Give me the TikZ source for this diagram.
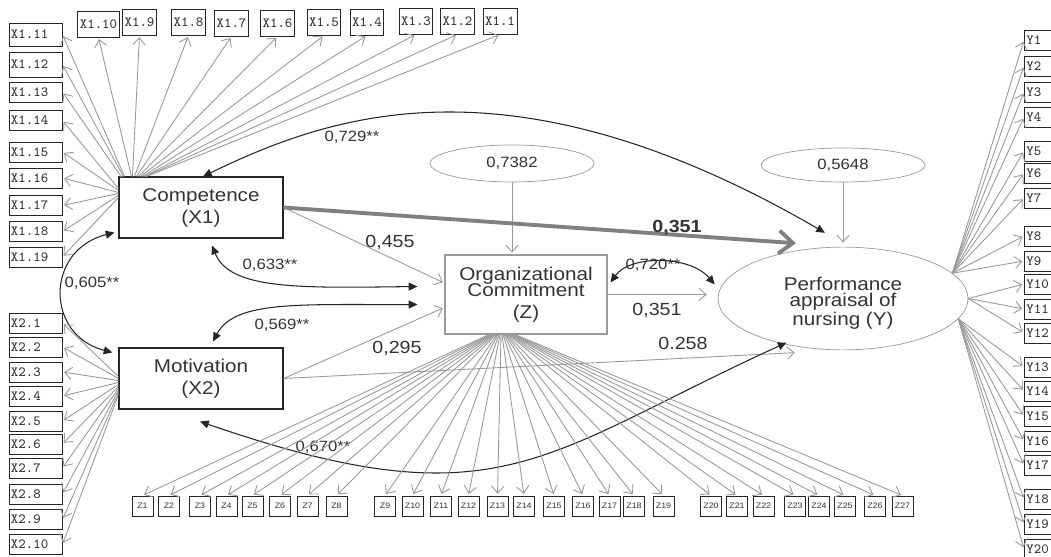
\documentclass[tikz,border=0pt]{standalone}
\usepackage{fontspec}
\setmainfont{Liberation Sans}[FakeStretch=1.12]
\usetikzlibrary{
    arrows.meta,
    positioning,
    shapes.geometric,
    calc
}

\begin{document}
\begin{tikzpicture}[
    x=0.2mm, y=-0.2mm,
    latent/.style={rectangle, draw=black!85, line width=0.6pt, minimum width=32.8mm, minimum height=12.2mm, align=center, text=black!80, font=\fontsize{10.5}{12.5}\selectfont},
    resid/.style={ellipse, draw=black!40, minimum width=32.8mm, minimum height=7.4mm, text=black!80, font=\fontsize{8.5}{10}\selectfont},
    ind/.style={rectangle, draw=black!85, line width=0.5pt, inner xsep=0.4mm, inner ysep=0pt, minimum height=4mm, font=\ttfamily\fontsize{8}{9}\selectfont, text=black!80},
    indl/.style={ind, text width=9.8mm, align=left},
    zind/.style={ind, minimum width=4.2mm, font=\fontsize{4.5}{5}\selectfont},
    load/.style={draw=black!40, line width=0.5pt, shorten >=1pt, -{Straight Barb[length=4pt,width=7pt]}},
    cor/.style={draw=black!85, line width=0.6pt, {Triangle[length=5pt,width=4.5pt]}-{Triangle[length=5pt,width=4.5pt]}},
    coef/.style={text=black!80, font=\fontsize{10}{12}\selectfont},
    corlab/.style={text=black!80, font=\fontsize{8.5}{10}\selectfont}
]
\useasboundingbox (0,0) rectangle (1051,557);
\clip (0,0) rectangle (1051,557);

% Latent variables
\node[latent] (comp) at (201,207.5) {Competence\\(X1)};
\node[latent] (mot) at (201,378.5) {Motivation\\(X2)};
\node[latent, draw=black!40, minimum width=32.4mm, minimum height=15.8mm] (org) at (526,294.5) {Organizational\\[-3.5pt]Commitment\\(Z)};
\node[ellipse, draw=black!40, minimum width=50mm, minimum height=18.6mm, align=center, text=black!80, font=\fontsize{10.5}{12}\selectfont] (perf) at (843,298.5) {\rule{0pt}{13pt}Performance\\[-3pt]appraisal of\\[-1.5pt]nursing (Y)};

% Residuals
\node[resid] (rz) at (512,163.5) {0,7382};
\node[resid, minimum height=6.8mm] (ry) at (843,165) {0,5648};
\draw[load] (rz.south) -- (rz.south |- org.north);
\draw[load, shorten >=2.3pt] (ry.south) -- (ry.south |- perf.north);

% Paths
\draw[draw=black!50, line width=2.2pt, -{Straight Barb[length=8pt,width=13pt]}] (comp.east) -- ([shift={(-2,-7)}]perf.133);
\node[coef, font=\bfseries\fontsize{10}{12}\selectfont] (b351) at (677,228) {0,351};
\draw[load] (comp.east) -- (org.172);
\node[coef] (b455) at (390,242) {0,455};
\draw[load] (mot.east) -- (org.189);
\node[coef] (b295) at (397,348) {0,295};
\draw[load] (mot.east) -- ([shift={(0,6)}]perf.226);
\node[coef] (b258) at (683,343) {0.258};
\draw[load, shorten >=2.2mm] (org.east) -- (org.east -| perf.west);
\node[coef] (b351z) at (657,310) {0,351};

% Correlations
\draw[cor] ([shift={(2,0)}]comp.north) .. controls (330,115) and (510,50) .. ([shift={(-18,-14)}]perf.north);
\node[corlab] (r729) at (352,137) {0,729**};
\draw[cor] ([shift={(-4,-6)}]comp.south west) .. controls (45,250) and (45,335) .. ([shift={(-6,5)}]mot.north west);
\node[corlab] (r605) at (92,283) {0,605**};
\draw[cor] ([shift={(11,7)}]comp.south) .. controls (230,290) and (300,288) .. ([shift={(-27,-8)}]org.west);
\node[corlab] (r633) at (270,265) {0,633**};
\draw[cor] ([shift={(12,-6)}]mot.north) .. controls (235,300) and (300,305) .. ([shift={(-27,10)}]org.west);
\node[corlab] (r569) at (282,325) {0,569**};
\draw[cor] ([shift={(3,-12)}]org.east) .. controls (630,255) and (690,255) .. ([shift={(-3,-14)}]perf.west);
\node[corlab] (r720) at (653,265) {0,720**};
\draw[cor] ([shift={(-1,12)}]mot.south) .. controls (500,525) and (540,455) .. ([shift={(-10,-4)}]perf.226);
\node[corlab] (r670) at (323,447) {0,670**};

% Indicators of X1
\foreach \n/\x/\y/\s in {10/98.5/24/13, 9/139.5/22/14, 8/188.5/22/16, 7/231.5/23/18, 6/277.5/23/20,
    5/324/22/22, 4/367/22/24, 3/416/21/26, 2/457.5/21/27, 1/500/21/28}{
  \node[ind, minimum height=5.2mm] (x1-\n) at (\x,\y) {X1.\n};
  \draw[load] ([xshift=\s*0.2mm]comp.north west) -- (x1-\n.south);
}
\foreach \n/\y/\h/\ox/\oy in {11/34.5/23/6/0, 12/64.5/25/5/0, 13/92/20/4/2, 14/120.5/20/0/12,
    15/152/20/0/14, 16/178/20/0/16, 17/205.5/20/0/17, 18/231.5/20/0/19, 19/257/20/0/21}{
  \node[indl, minimum height=\h*0.2mm] (x1-\n) at (35.5,\y) {X1.\n};
  \draw[load] ([shift={(\ox,\oy)}]comp.north west) -- (x1-\n.east);
}

% Indicators of X2
\foreach \n/\y in {1/323, 2/347, 3/372, 4/396, 5/421, 6/444, 7/468, 8/494, 9/519.5, 10/544.5}{
  \node[indl] (x2-\n) at (35.5,\y) {X2.\n};
  \draw[load] ([shift={(0,2*\n-4)}]mot.west) -- (x2-\n.east);
}

% Indicators of Z
\foreach \i/\x in {1/142.5, 2/169, 3/200, 4/226.5, 5/252.5, 6/280, 7/307.5, 8/336.5, 9/385,
    10/412.5, 11/441, 12/468.5, 13/497.5, 14/524, 15/554, 16/583, 17/609.5, 18/634, 19/663.5,
    20/711, 21/737, 22/763.5, 23/795, 24/819, 25/845, 26/875, 27/902.5}{
  \node[zind] (z\i) at (\x,506) {Z\i};
  \draw[load] ($(org.south)+(\i-38,0)$) -- (z\i.north);
}

% Indicators of Y
\foreach \i/\y/\a in {1/40/13, 2/66/13, 3/92/13, 4/117/13, 5/151/13, 6/173/13, 7/198/13, 8/236/13,
    9/261/13, 10/284/0, 11/309/0, 12/333/0, 13/367/350, 14/391/350, 15/416/350, 16/441/350,
    17/465/350, 18/499/350, 19/524/350, 20/549/350}{
  \node[indl, anchor=west] (y\i) at (1024,\y) {Y\i};
  \draw[load] (perf.\a) -- (y\i.west);
}
\end{tikzpicture}
\end{document}
